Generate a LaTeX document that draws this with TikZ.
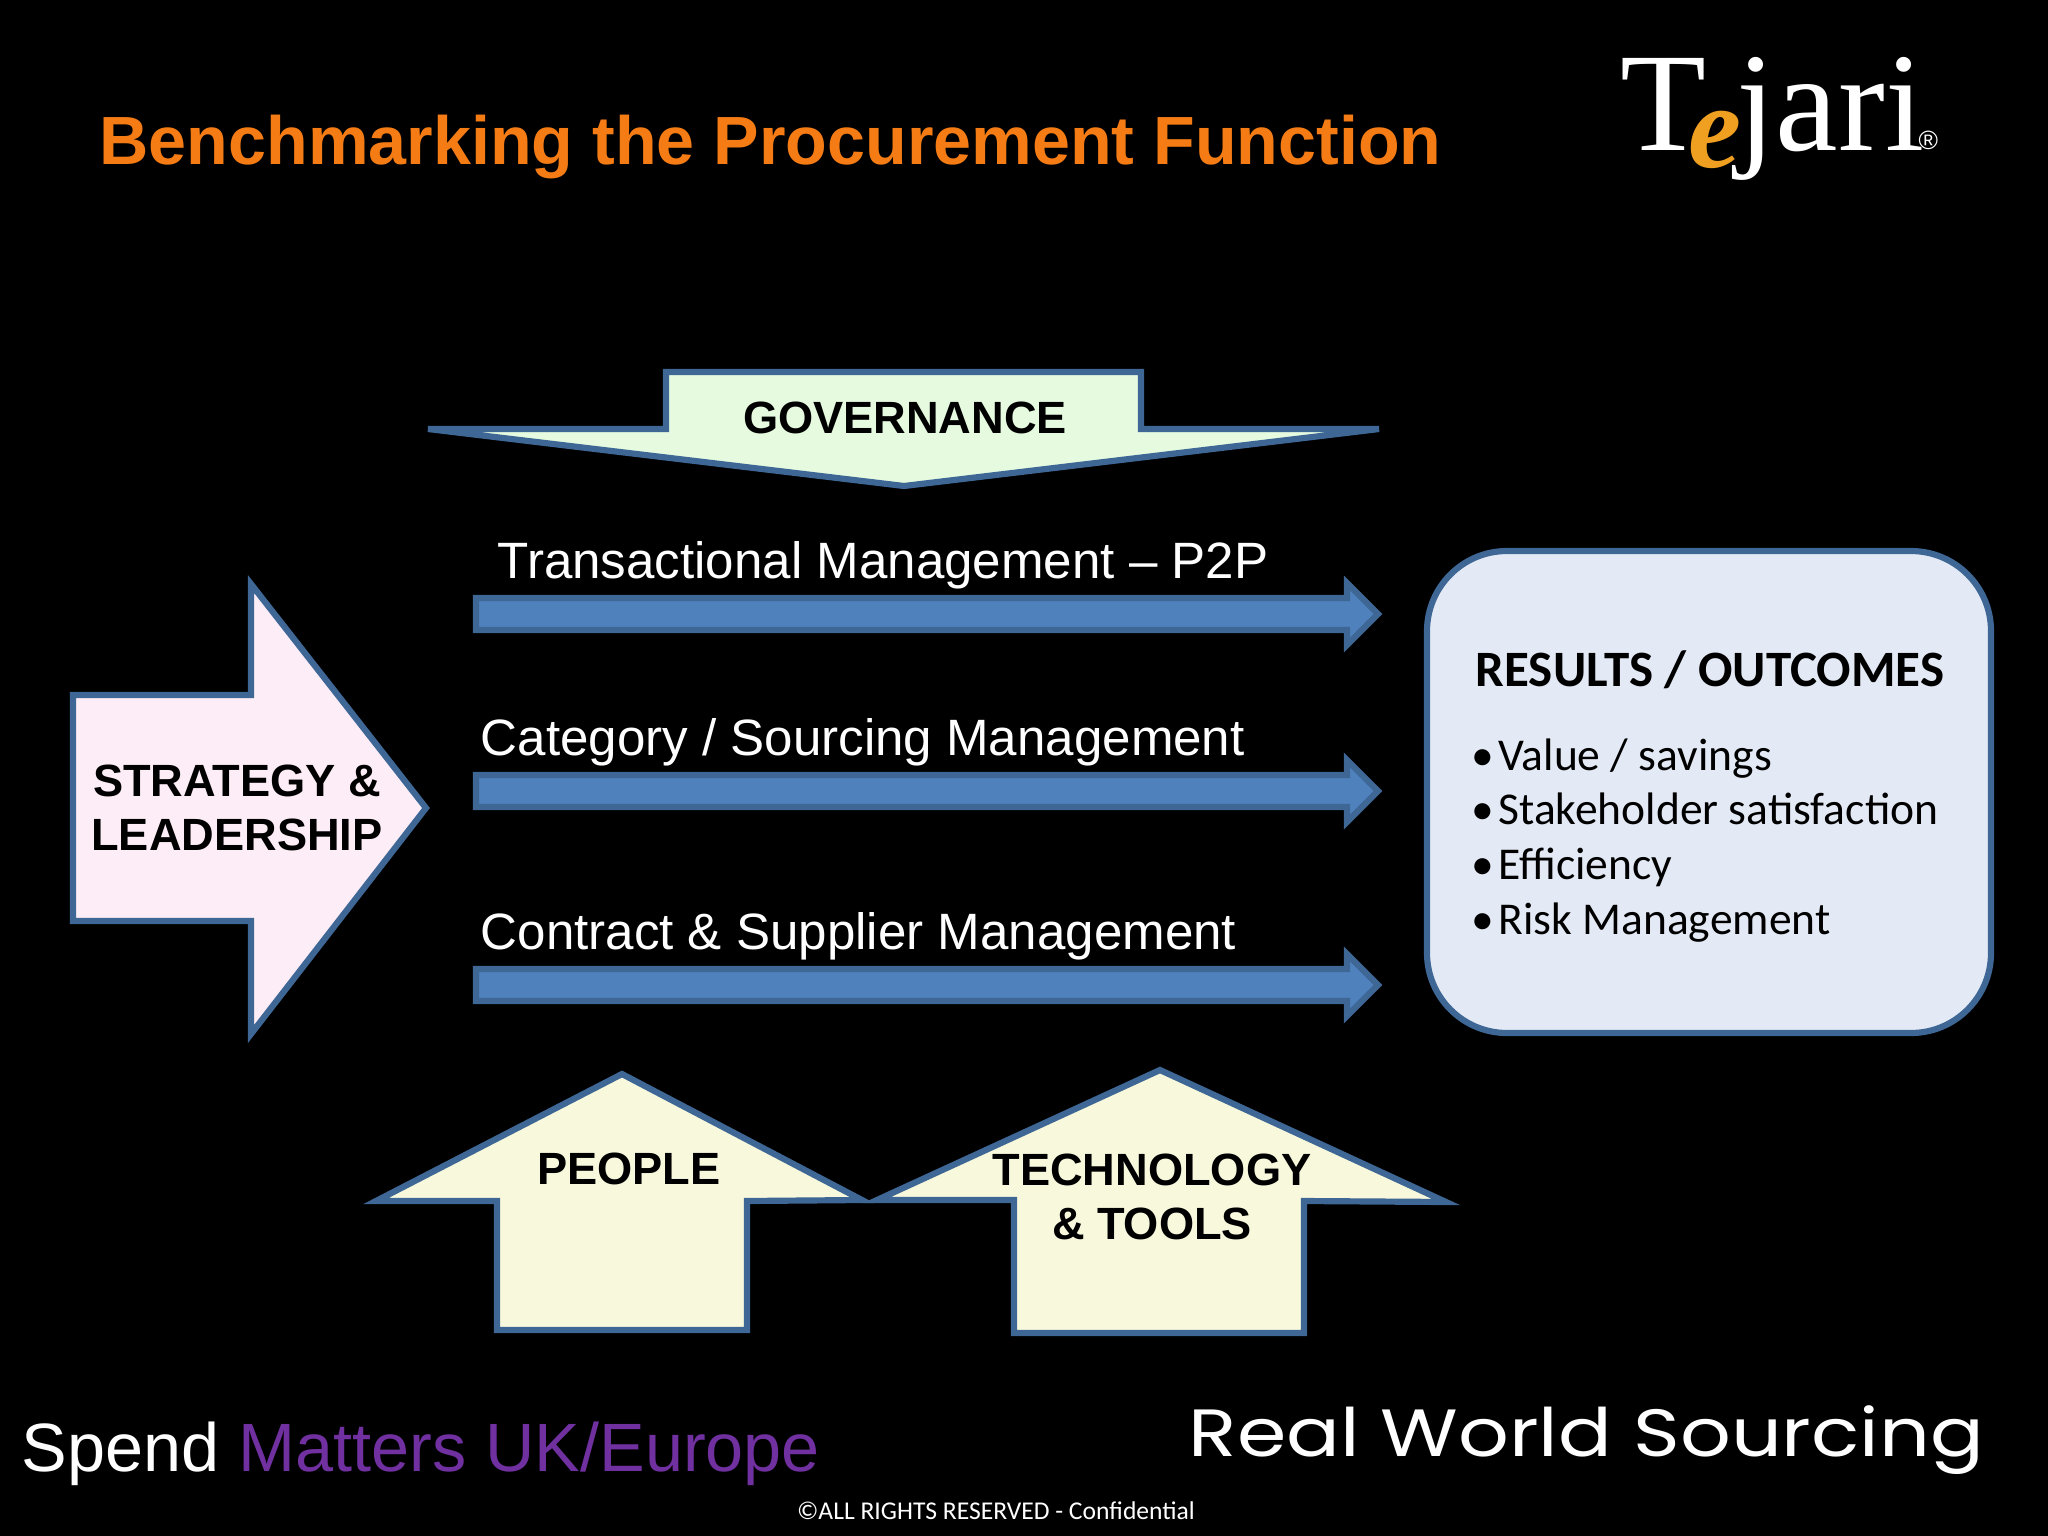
\documentclass[tikz,border=0pt]{standalone}
\usepackage{fontspec}
\setmainfont{Liberation Sans}
\newfontfamily\bodyfont{Carlito}
\newfontfamily\logofont{Liberation Serif}
\newfontfamily\rwsfont[FakeStretch=1.19]{Poppins}
\definecolor{edgeblue}{HTML}{3E6795}
\definecolor{barblue}{HTML}{4F81BD}
\definecolor{titleorange}{HTML}{F57C14}
\definecolor{spendpurple}{HTML}{7030A0}
\definecolor{logoorange}{HTML}{F0A020}
\definecolor{govfill}{HTML}{E6FADF}
\definecolor{stratfill}{HTML}{FDEDF7}
\definecolor{resfill}{HTML}{E4EAF5}
\definecolor{upfill}{HTML}{F8F9DC}
\tikzset{
    block/.style={draw=edgeblue, line width=5pt/2.845, line join=miter},
    bar/.style={draw=edgeblue, fill=barblue, line width=5pt/2.845},
    heavy/.style={font=\fontsize{12.85}{15.5}\selectfont\bfseries, text=black, align=center, inner sep=0pt},
    barlabel/.style={font=\fontsize{14.53}{18}\selectfont, text=white, anchor=base west, inner sep=0pt},
    bullet/.style={font=\bodyfont\fontsize{12.95}{15}\selectfont, text=black, anchor=base west, inner sep=0pt},
}

\begin{document}
\begin{tikzpicture}[x=0.01cm, y=-0.01cm]
    \useasboundingbox (0,0) rectangle (2048,1536);
    \fill[black] (0,0) rectangle (2048,1536);

    \node[font=\fontsize{19.4}{22}\selectfont\bfseries, text=titleorange, anchor=base west, inner sep=0pt] (title) at (99,164) {Benchmarking the Procurement Function};

    % logo
    \node[font=\logofont\fontsize{40}{42}\selectfont, text=white, anchor=base west, inner sep=0pt] (logoT) at (1620,150) {T};
    \node[font=\logofont\fontsize{34}{40}\selectfont\bfseries\itshape, text=logoorange, anchor=base west, inner sep=0pt] (logoe) at (1688,167) {e};
    \node[font=\logofont\fontsize{40}{42}\selectfont, text=white, anchor=base west, inner sep=0pt] (logojari) at (1736,150) {jari};
    \node[font=\fontsize{7.5}{8}\selectfont, text=white, anchor=base west, inner sep=0pt] (logoreg) at (1918,149) {®};

    % governance
    \draw[block, fill=govfill] (666,372) -- (1141,372) -- (1141,429) -- (1379,429) -- (904,486) -- (428,429) -- (666,429) -- cycle;
    \node[heavy] (governance) at (905,418) {GOVERNANCE};

    % the three bars
    \foreach \y/\name/\xt/\txt in {614/trans/497/{Transactional Management -- P2P},
                                  791/cat/480/{Category / Sourcing Management},
                                  985/contract/480/{Contract \& Supplier Management}} {
        \draw[bar] (476,\y-16) -- (1347,\y-16) -- (1347,\y-31) -- (1378,\y) -- (1347,\y+31) -- (1347,\y+16) -- (476,\y+16) -- cycle;
        \node[barlabel] (\name) at (\xt,\y-36) {\txt};
    }

    % strategy
    \draw[block, fill=stratfill] (73,695) -- (251,695) -- (251,584) -- (426,808) -- (251,1034) -- (251,921) -- (73,921) -- cycle;
    \node[heavy] (strategy) at (237,808) {STRATEGY \&\\LEADERSHIP};

    % results
    \draw[block, fill=resfill, rounded corners=80*0.01cm] (1427,551) rectangle (1991,1033);
    \node[font=\bodyfont\fontsize{14.5}{16}\selectfont\bfseries, text=black, anchor=base, inner sep=0pt] (results) at (1710,686) {RESULTS / OUTCOMES};
    \foreach \y/\name/\txt in {770/value/{Value / savings}, 824/stake/{Stakeholder satisfaction}, 879/effic/{Efficiency}, 934/risk/{Risk Management}} {
        \node[bullet] (\name) at (1471,\y) {\textbullet\hspace{0.09em}\txt};
    }

    % people and technology
    \draw[block, fill=upfill] (622,1074) -- (376,1201) -- (497,1201) -- (497,1330) -- (747,1330) -- (747,1201) -- (862,1200) -- cycle;
    \draw[block, fill=upfill] (1160,1070) -- (877,1200) -- (1014,1200) -- (1014,1333) -- (1304,1333) -- (1304,1201) -- (1446,1202) -- cycle;
    \node[heavy] (people) at (629,1169) {PEOPLE};
    \node[heavy] (tech) at (1152,1197) {TECHNOLOGY\\\& TOOLS};

    % footer
    \node[font=\fontsize{19.45}{22}\selectfont, text=white, anchor=base west, inner sep=0pt] (spend) at (21,1471) {Spend \textcolor{spendpurple}{Matters UK/Europe}};
    \node[font=\rwsfont\fontsize{19}{22}\selectfont, text=white, anchor=base west, inner sep=0pt] (rws) at (1188,1456) {Real World Sourcing};
    \node[font=\bodyfont\fontsize{7.28}{8}\selectfont, text=white, inner sep=0pt] (rights) at (996,1511) {©ALL RIGHTS RESERVED - Confidential};
\end{tikzpicture}
\end{document}
